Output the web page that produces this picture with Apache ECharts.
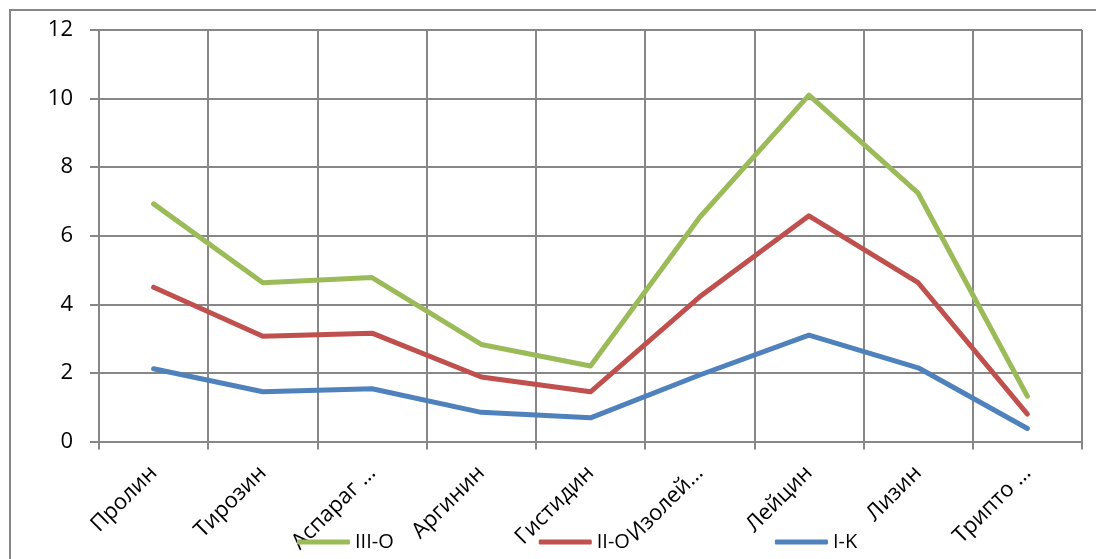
<!DOCTYPE html>
<html>
<head>
<meta charset="utf-8">
<script src="https://cdn.jsdelivr.net/npm/echarts@6/dist/echarts.min.js"></script>
<style>
  html, body { margin: 0; padding: 0; background: #ffffff; }
  #chart { width: 1096px; height: 559px; }
</style>
</head>
<body>
<div id="chart"></div>
<script>
// Amino acid content by group
const categories = ['Пролин', 'Тирозин', 'Аспарагин', 'Аргинин', 'Гистидин', 'Изолейцин', 'Лейцин', 'Лизин', 'Триптофан'];
const tickLabels = ['Пролин', 'Тирозин', 'Аспараг …', 'Аргинин', 'Гистидин', 'Изолей…', 'Лейцин', 'Лизин', 'Трипто …'];
const seriesNames = ['III-O', 'II-O', 'I-K'];
const valuesIIIO = [6.93, 4.63, 4.78, 2.83, 2.20, 6.54, 10.10, 7.24, 1.32];
const valuesIIO  = [4.50, 3.07, 3.16, 1.88, 1.45, 4.22, 6.58, 4.63, 0.80];
const valuesIK   = [2.12, 1.45, 1.54, 0.85, 0.69, 1.94, 3.10, 2.15, 0.38];
const yTicks = [0, 2, 4, 6, 8, 10, 12];

const colors = ['#9BBB59', '#C0504D', '#4F81BD'];
const gridColor = '#878787';
const font = '"Open Sans", "Liberation Sans", sans-serif';

const chart = echarts.init(document.getElementById('chart'), null, { renderer: 'canvas' });

function lineSeries(name, data, color) {
  return {
    name: name,
    type: 'line',
    data: data,
    symbol: 'none',
    showSymbol: false,
    smooth: false,
    lineStyle: { width: 5, color: color, cap: 'round', join: 'round' },
    itemStyle: { color: color },
    emphasis: { disabled: true }
  };
}

chart.setOption({
  animation: false,
  backgroundColor: '#ffffff',
  graphic: [{
    type: 'rect',
    shape: { x: 10, y: 10, width: 1200, height: 700 },
    style: { fill: 'none', stroke: '#868686', lineWidth: 2 },
    silent: true,
    z: -1
  }],
  grid: { left: 99, right: 14, top: 30, bottom: 117.5, containLabel: false },
  legend: {
    data: seriesNames,
    left: 297,
    top: 532,
    padding: 0,
    orient: 'horizontal',
    icon: 'roundRect',
    itemWidth: 53,
    itemHeight: 5,
    itemGap: 145,
    textStyle: { fontFamily: font, fontSize: 20, color: '#000000' },
    selectedMode: false
  },
  xAxis: {
    type: 'category',
    data: categories,
    boundaryGap: true,
    axisLine: { show: true, lineStyle: { color: gridColor, width: 2 } },
    axisTick: { show: true, length: 8, interval: 0, lineStyle: { color: gridColor, width: 2 } },
    splitLine: { show: true, interval: 0, lineStyle: { color: gridColor, width: 2 } },
    axisLabel: {
      interval: 0,
      rotate: 45,
      margin: 28,
      fontFamily: font,
      fontSize: 22,
      color: '#000000',
      formatter: function (value, index) { return tickLabels[index]; }
    }
  },
  yAxis: {
    type: 'value',
    min: yTicks[0],
    max: yTicks[yTicks.length - 1],
    interval: 2,
    axisLine: { show: true, lineStyle: { color: gridColor, width: 2 } },
    axisTick: { show: true, length: 9, lineStyle: { color: gridColor, width: 2 } },
    splitLine: { show: true, lineStyle: { color: gridColor, width: 2 } },
    axisLabel: {
      margin: 26,
      fontFamily: font,
      fontSize: 22,
      color: '#000000'
    }
  },
  series: [
    lineSeries(seriesNames[0], valuesIIIO, colors[0]),
    lineSeries(seriesNames[1], valuesIIO, colors[1]),
    lineSeries(seriesNames[2], valuesIK, colors[2])
  ]
});
</script>
</body>
</html>
